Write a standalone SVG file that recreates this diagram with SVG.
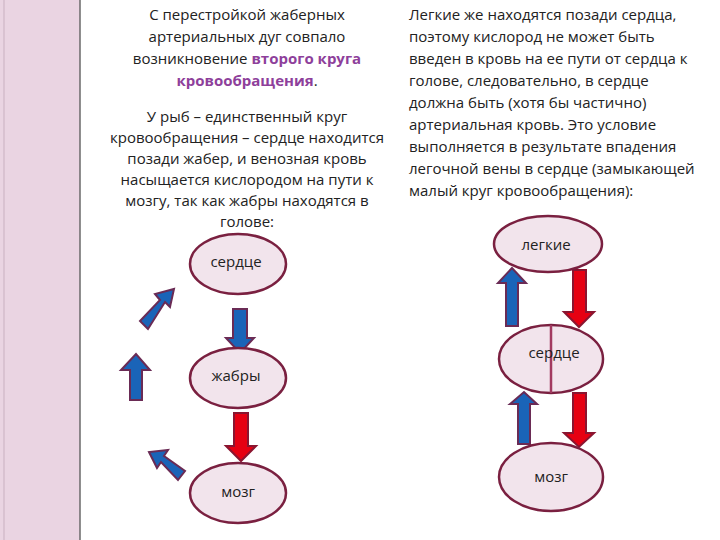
<svg xmlns="http://www.w3.org/2000/svg" width="720" height="540" viewBox="0 0 720 540">
<style>
text{font-family:"Open Sans","Liberation Sans",sans-serif;font-size:15px;fill:#222}
.c{text-anchor:middle}
.b{fill:#8e3f9b;font-weight:bold}
.n{fill:#f2e4ec;stroke:#7a2040;stroke-width:2.5}
.bl{fill:#1a64b8;stroke:#6a2b55;stroke-width:2}
.rd{fill:#e60012;stroke:#8a1530;stroke-width:2}
</style>
<rect x="0" y="0" width="80" height="540" fill="#ead4e2"/>
<line x1="80" y1="0" x2="80" y2="540" stroke="#6a6a6a" stroke-width="1.5"/>
<line x1="4" y1="0" x2="4" y2="540" stroke="#c9b0c0" stroke-width="1"/>
<g id="text-left">
<text class="c" x="247" y="20">С перестройкой жаберных</text>
<text class="c" x="247" y="42">артериальных дуг совпало</text>
<text class="c" x="247" y="64">возникновение <tspan class="b">второго круга</tspan></text>
<text class="c" x="247" y="86"><tspan class="b">кровообращения</tspan>.</text>
<text class="c" x="247" y="122">У рыб – единственный круг</text>
<text class="c" x="247" y="143">кровообращения – сердце находится</text>
<text class="c" x="247" y="164">позади жабер, и венозная кровь</text>
<text class="c" x="247" y="185">насыщается кислородом на пути к</text>
<text class="c" x="247" y="206">мозгу, так как жабры находятся в</text>
<text class="c" x="247" y="227">голове:</text>
</g>
<g id="text-right">
<text x="409" y="20">Легкие же находятся позади сердца,</text>
<text x="409" y="42">поэтому кислород не может быть</text>
<text x="409" y="64">введен в кровь на ее пути от сердца к</text>
<text x="409" y="86">голове, следовательно, в сердце</text>
<text x="409" y="108">должна быть (хотя бы частично)</text>
<text x="409" y="130">артериальная кровь. Это условие</text>
<text x="409" y="152">выполняется в результате впадения</text>
<text x="409" y="174">легочной вены в сердце (замыкающей</text>
<text x="409" y="196">малый круг кровообращения):</text>
</g>
<g id="connectors">
<polygon class="bl" points="233,309 247,309 247,338 254,338 240,353 226,338 233,338"/>
<polygon class="rd" points="234,413 248,413 248,446 256,446 241,461 226,446 234,446"/>
<polygon class="bl" points="130,400 142,400 142,370 150,370 136,354 121,370 130,370"/>
<polygon class="bl" points="148,329 140,321 160,300 155,294 174,289 170,307 165,302"/>
<polygon class="bl" points="178,480 185,471 164,456 168,450 149,452 157,468 161,462"/>
<polygon class="bl" points="506,326 518,326 518,283 526,283 512,268 498,283 506,283"/>
<polygon class="rd" points="573,270 586,270 586,312 594,312 579,327 564,312 573,312"/>
<polygon class="bl" points="518,444 530,444 530,404 537,404 524,392 510,404 518,404"/>
<polygon class="rd" points="573,393 586,393 586,433 594,433 579,447 564,433 573,433"/>
</g>
<g id="fish-heart"><ellipse class="n" cx="238" cy="264" rx="48" ry="30"/><text class="c" x="236" y="267">сердце</text></g>
<g id="fish-gills"><ellipse class="n" cx="238" cy="378" rx="48" ry="30"/><text class="c" x="236" y="381">жабры</text></g>
<g id="fish-brain"><ellipse class="n" cx="238" cy="493" rx="48" ry="30"/><text class="c" x="238" y="497">мозг</text></g>
<g id="lungs"><ellipse class="n" cx="548" cy="244" rx="54" ry="28"/><text class="c" x="546" y="250">легкие</text></g>
<g id="heart"><ellipse class="n" cx="551" cy="359" rx="52" ry="34"/><line x1="551" y1="325" x2="551" y2="393" stroke="#a23a60" stroke-width="2.5"/><text class="c" x="554" y="358">сердце</text></g>
<g id="brain"><ellipse class="n" cx="551" cy="477" rx="52" ry="34"/><text class="c" x="551" y="482">мозг</text></g>
</svg>
